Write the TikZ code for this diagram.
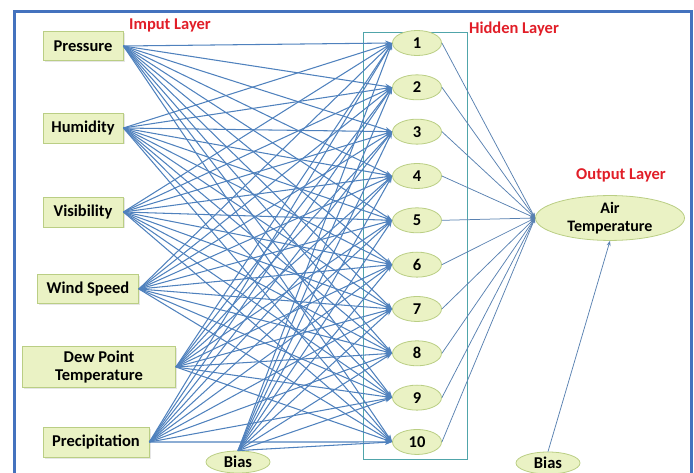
\documentclass[tikz,border=0pt]{standalone}
\usepackage{fontspec}
\setmainfont{Carlito}
\usetikzlibrary{shapes.geometric,arrows.meta,shadows}
\definecolor{nodefill}{RGB}{234,242,196}
\definecolor{nodeline}{RGB}{186,206,132}
\definecolor{linkblue}{RGB}{79,129,189}
\definecolor{frameblue}{RGB}{68,114,190}
\definecolor{boxteal}{RGB}{80,165,170}
\definecolor{titlered}{RGB}{225,30,40}

\begin{document}
\begin{tikzpicture}[x=1pt,y=-1pt,
    inbox/.style={draw=nodeline,fill=nodefill,thick,inner sep=0pt,align=center,
      font=\bfseries\fontsize{16.5}{18}\selectfont,
      drop shadow={opacity=0.2,shadow xshift=1.5pt,shadow yshift=-1.5pt}},
    unit/.style={ellipse,draw=nodeline,fill=nodefill,thick,inner sep=0pt,align=center,
      minimum width=49pt,minimum height=25pt,font=\bfseries\fontsize{16.5}{18}\selectfont},
    title/.style={text=titlered,font=\bfseries\fontsize{16.5}{18}\selectfont},
    link/.style={draw=linkblue,line width=1.05pt,-{Stealth[length=7pt,width=5pt]}},
    outlink/.style={draw=linkblue!80!gray,line width=0.75pt,-{Stealth[length=5pt,width=4pt]}}]
  \clip (0,0) rectangle (694,473);
  \draw[frameblue,line width=3pt] (14,12) rectangle (691,495);
  \draw[boxteal,line width=0.9pt] (363,32) rectangle (467,459);
  \node[title] (tin) at (170,25) {Imput Layer};
  \node[title] (thid) at (514,29) {Hidden Layer};
  \node[title] (tout) at (621,175) {Output Layer};
  \node[inbox,minimum width=80pt,minimum height=29pt] (pres) at (83,46) {Pressure};
  \node[inbox,minimum width=80pt,minimum height=30pt] (humi) at (83,128) {Humidity};
  \node[inbox,minimum width=80pt,minimum height=30pt] (visi) at (83,212) {Visibility};
  \node[inbox,minimum width=101pt,minimum height=29pt] (wind) at (88,289) {Wind Speed};
  \node[inbox,minimum width=153pt,minimum height=41pt] (dew) at (99,367) {Dew Point\\Temperature};
  \node[inbox,minimum width=106pt,minimum height=30pt] (prec) at (96,442) {Precipitation};
  \node[unit,minimum width=64pt,minimum height=22pt] (biasA) at (238,462) {Bias};
  \node[unit,minimum width=64pt,minimum height=22pt] (biasB) at (548,463) {Bias};
  \foreach \i in {1,...,10}
    \node[unit] (h\i) at (417,{43+44.33*(\i-1)}) {\i};
  \node[unit,minimum width=149pt,minimum height=42pt,font=\bfseries\fontsize{16}{18}\selectfont]
    (out) at (610,218) {Air\\Temperature};
  \foreach \s in {pres,humi,visi,wind,dew,prec}
    \foreach \i in {1,...,10}
      \draw[link] (\s.east) -- (h\i.west);
  \foreach \i in {1,...,10}
    \draw[link] (biasA.north) -- (h\i.west);
  \foreach \i in {1,...,10}
    \draw[outlink] (h\i.east) -- (out.west);
  \draw[outlink] (biasB.north) -- (out.south);
\end{tikzpicture}
\end{document}
